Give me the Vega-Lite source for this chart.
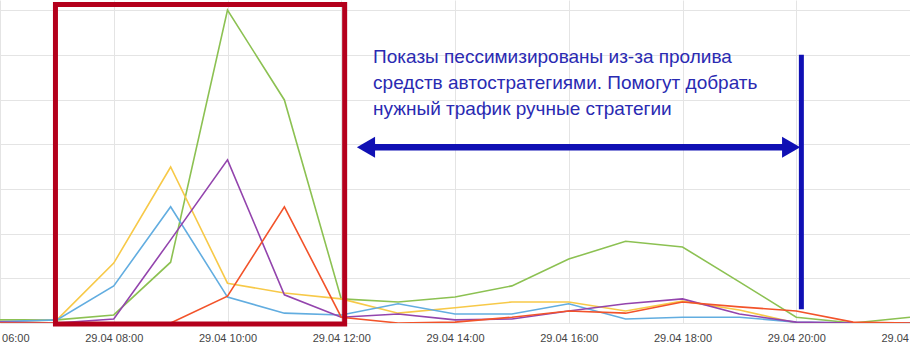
{
  "$schema": "https://vega.github.io/schema/vega-lite/v6.json",
  "width": 910,
  "height": 323,
  "autosize": {"type": "none"},
  "padding": {"left": 0, "right": 0, "top": 0, "bottom": 26},
  "background": "white",
  "config": {
    "view": {"stroke": null},
    "font": "Liberation Sans"
  },
  "datasets": {
    "series": [
      {"h": 6, "s": "a", "v": 0.07}, {"h": 7, "s": "a", "v": 0.07}, {"h": 8, "s": "a", "v": 0.18}, {"h": 9, "s": "a", "v": 1.36}, {"h": 10, "s": "a", "v": 7.0}, {"h": 11, "s": "a", "v": 4.99}, {"h": 12, "s": "a", "v": 0.54}, {"h": 13, "s": "a", "v": 0.47}, {"h": 14, "s": "a", "v": 0.58}, {"h": 15, "s": "a", "v": 0.83}, {"h": 16, "s": "a", "v": 1.43}, {"h": 17, "s": "a", "v": 1.83}, {"h": 18, "s": "a", "v": 1.7}, {"h": 19, "s": "a", "v": 0.92}, {"h": 20, "s": "a", "v": 0.13}, {"h": 21, "s": "a", "v": 0.0}, {"h": 22, "s": "a", "v": 0.13},
      {"h": 6, "s": "b", "v": 0.03}, {"h": 7, "s": "b", "v": 0.07}, {"h": 8, "s": "b", "v": 1.34}, {"h": 9, "s": "b", "v": 3.49}, {"h": 10, "s": "b", "v": 0.89}, {"h": 11, "s": "b", "v": 0.67}, {"h": 12, "s": "b", "v": 0.54}, {"h": 13, "s": "b", "v": 0.22}, {"h": 14, "s": "b", "v": 0.34}, {"h": 15, "s": "b", "v": 0.47}, {"h": 16, "s": "b", "v": 0.47}, {"h": 17, "s": "b", "v": 0.27}, {"h": 18, "s": "b", "v": 0.49}, {"h": 19, "s": "b", "v": 0.29}, {"h": 20, "s": "b", "v": 0.0}, {"h": 21, "s": "b", "v": 0.0}, {"h": 22, "s": "b", "v": 0.0},
      {"h": 6, "s": "c", "v": 0.03}, {"h": 7, "s": "c", "v": 0.07}, {"h": 8, "s": "c", "v": 0.83}, {"h": 9, "s": "c", "v": 2.6}, {"h": 10, "s": "c", "v": 0.58}, {"h": 11, "s": "c", "v": 0.22}, {"h": 12, "s": "c", "v": 0.18}, {"h": 13, "s": "c", "v": 0.43}, {"h": 14, "s": "c", "v": 0.2}, {"h": 15, "s": "c", "v": 0.2}, {"h": 16, "s": "c", "v": 0.43}, {"h": 17, "s": "c", "v": 0.09}, {"h": 18, "s": "c", "v": 0.13}, {"h": 19, "s": "c", "v": 0.13}, {"h": 20, "s": "c", "v": 0.02}, {"h": 21, "s": "c", "v": 0.0}, {"h": 22, "s": "c", "v": 0.0},
      {"h": 6, "s": "d", "v": 0.02}, {"h": 7, "s": "d", "v": 0.0}, {"h": 8, "s": "d", "v": 0.09}, {"h": 9, "s": "d", "v": 1.86}, {"h": 10, "s": "d", "v": 3.65}, {"h": 11, "s": "d", "v": 0.63}, {"h": 12, "s": "d", "v": 0.13}, {"h": 13, "s": "d", "v": 0.2}, {"h": 14, "s": "d", "v": 0.07}, {"h": 15, "s": "d", "v": 0.09}, {"h": 16, "s": "d", "v": 0.27}, {"h": 17, "s": "d", "v": 0.43}, {"h": 18, "s": "d", "v": 0.54}, {"h": 19, "s": "d", "v": 0.2}, {"h": 20, "s": "d", "v": 0.02}, {"h": 21, "s": "d", "v": 0.0}, {"h": 22, "s": "d", "v": 0.0},
      {"h": 6, "s": "e", "v": 0.0}, {"h": 7, "s": "e", "v": 0.0}, {"h": 8, "s": "e", "v": 0.0}, {"h": 9, "s": "e", "v": 0.0}, {"h": 10, "s": "e", "v": 0.6}, {"h": 11, "s": "e", "v": 2.6}, {"h": 12, "s": "e", "v": 0.13}, {"h": 13, "s": "e", "v": 0.0}, {"h": 14, "s": "e", "v": 0.02}, {"h": 15, "s": "e", "v": 0.13}, {"h": 16, "s": "e", "v": 0.27}, {"h": 17, "s": "e", "v": 0.22}, {"h": 18, "s": "e", "v": 0.47}, {"h": 19, "s": "e", "v": 0.36}, {"h": 20, "s": "e", "v": 0.27}, {"h": 21, "s": "e", "v": 0.02}, {"h": 22, "s": "e", "v": 0.0}
    ],
    "box": [{"x1": 6.975, "x2": 12.06, "y1": -0.02, "y2": 7.125}],
    "note": [
      {"x": 12.56, "y": 5.82, "t": "Показы пессимизированы из-за пролива"},
      {"x": 12.56, "y": 5.24, "t": "средств автостратегиями. Помогут добрать"},
      {"x": 12.56, "y": 4.66, "t": "нужный трафик ручные стратегии"}
    ],
    "arrowline": [{"x1": 12.5, "x2": 19.85, "y": 3.93}],
    "heads": [
      {"x": 12.435, "y": 3.93, "sh": "triangle-left"},
      {"x": 19.91, "y": 3.93, "sh": "triangle-right"}
    ],
    "vline": [{"x": 20.09, "y1": 0.31, "y2": 6.0}]
  },
  "layer": [
    {
      "data": {"name": "series"},
      "mark": {"type": "line", "strokeWidth": 1.6, "clip": true},
      "encoding": {
        "x": {
          "field": "h", "type": "quantitative",
          "scale": {"domain": [6, 22], "nice": false, "zero": false},
          "axis": {
            "title": null, "values": [6, 8, 10, 12, 14, 16, 18, 20, 22],
            "labelExpr": "'29.04 ' + (datum.value < 10 ? '0' : '') + datum.value + ':00'",
            "domain": false, "ticks": false, "labelPadding": 9,
            "labelFontSize": 11, "labelColor": "#444444", "labelFont": "Liberation Sans",
            "labelOverlap": false, "labelBound": false, "labelFlush": false,
            "grid": true, "gridColor": "#e4e4e4", "gridWidth": 1
          }
        },
        "y": {
          "field": "v", "type": "quantitative",
          "scale": {"domain": [0, 7.226], "nice": false},
          "axis": {
            "title": null, "values": [0, 1, 2, 3, 4, 5, 6, 7],
            "labels": false, "domain": false, "ticks": false,
            "grid": true, "gridColor": "#e4e4e4", "gridWidth": 1
          }
        },
        "color": {
          "field": "s", "type": "nominal", "legend": null,
          "scale": {"domain": ["a", "b", "c", "d", "e"], "range": ["#8cc152", "#f7c948", "#62ade0", "#9344ad", "#f2532a"]}
        }
      }
    },
    {
      "data": {"name": "box"},
      "mark": {"type": "rect", "fill": null, "stroke": "#b4001c", "strokeWidth": 5},
      "encoding": {
        "x": {"field": "x1", "type": "quantitative"},
        "x2": {"field": "x2"},
        "y": {"field": "y1", "type": "quantitative"},
        "y2": {"field": "y2"}
      }
    },
    {
      "data": {"name": "note"},
      "mark": {"type": "text", "align": "left", "baseline": "alphabetic", "fontSize": 19, "color": "#2a2ab2", "font": "Liberation Sans"},
      "encoding": {
        "x": {"field": "x", "type": "quantitative"},
        "y": {"field": "y", "type": "quantitative"},
        "text": {"field": "t"}
      }
    },
    {
      "data": {"name": "arrowline"},
      "mark": {"type": "rule", "color": "#1010b4", "strokeWidth": 6.5},
      "encoding": {
        "x": {"field": "x1", "type": "quantitative"},
        "x2": {"field": "x2"},
        "y": {"field": "y", "type": "quantitative"}
      }
    },
    {
      "data": {"name": "heads"},
      "mark": {"type": "point", "filled": true, "color": "#1010b4", "size": 440, "opacity": 1},
      "encoding": {
        "x": {"field": "x", "type": "quantitative"},
        "y": {"field": "y", "type": "quantitative"},
        "shape": {"field": "sh", "type": "nominal", "scale": null, "legend": null}
      }
    },
    {
      "data": {"name": "vline"},
      "mark": {"type": "rule", "color": "#1010b4", "strokeWidth": 5},
      "encoding": {
        "x": {"field": "x", "type": "quantitative"},
        "y": {"field": "y1", "type": "quantitative"},
        "y2": {"field": "y2"}
      }
    }
  ]
}
